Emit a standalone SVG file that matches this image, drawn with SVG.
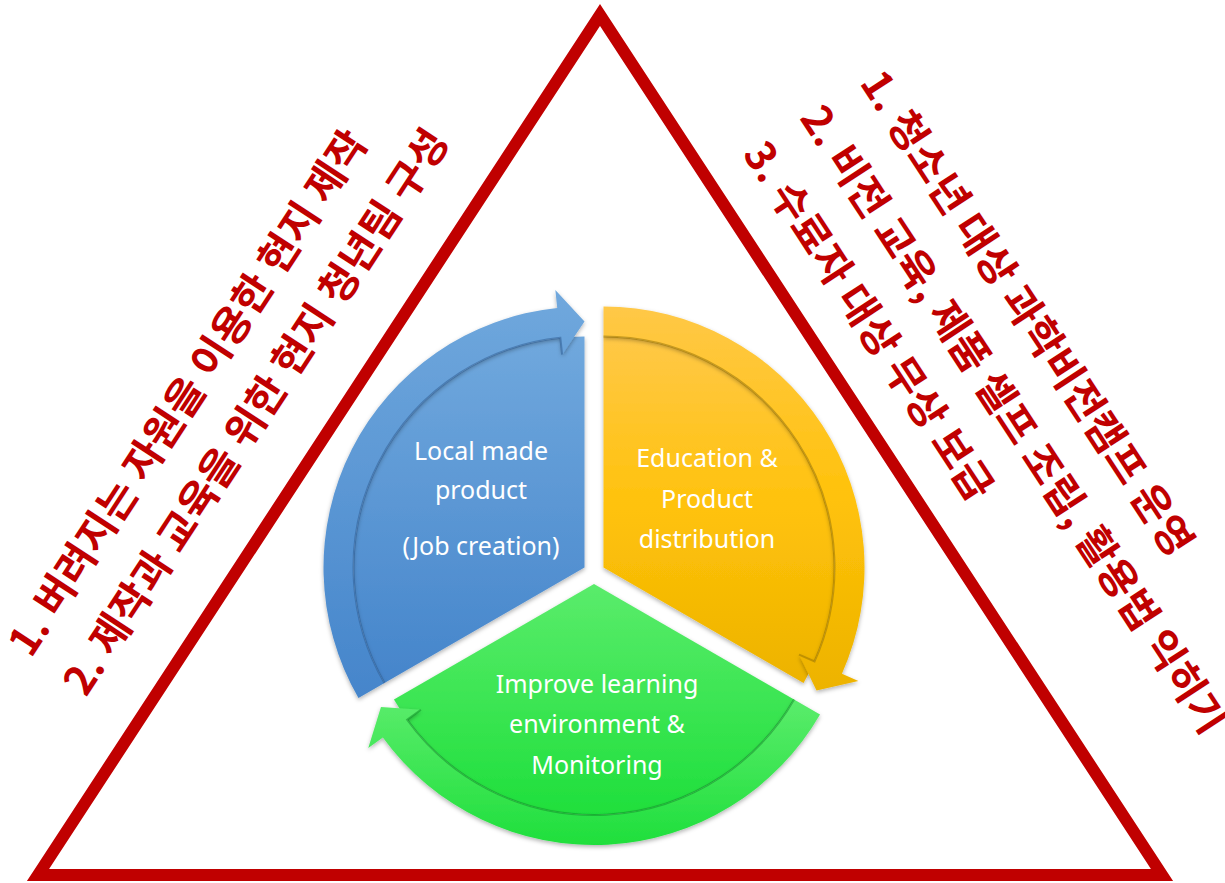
<svg xmlns="http://www.w3.org/2000/svg" width="1225" height="883" viewBox="0 0 1225 883">
<defs>
<style>
.kr{font-family:"Noto Sans CJK KR","Noto Sans",sans-serif;font-weight:bold;font-size:41px;word-spacing:1px;fill:#C00000}
.lbl{font-family:"Noto Sans","Open Sans",sans-serif;font-size:25px;fill:#FFFFFF;text-anchor:middle}
.edge{fill:none;stroke-width:2;stroke-opacity:0.55}
</style>
<linearGradient id="gB" x1="0" y1="0" x2="0" y2="1"><stop offset="0" stop-color="#70A8DD"/><stop offset="1" stop-color="#4585CB"/></linearGradient>
<linearGradient id="gO" x1="0" y1="0" x2="0" y2="1"><stop offset="0" stop-color="#FFC847"/><stop offset="0.5" stop-color="#FFC20A"/><stop offset="1" stop-color="#EDB300"/></linearGradient>
<linearGradient id="gG" x1="0" y1="0" x2="0" y2="1"><stop offset="0" stop-color="#5AEC6B"/><stop offset="1" stop-color="#1FDF3C"/></linearGradient>
<filter id="sh" x="-10%" y="-10%" width="120%" height="120%"><feDropShadow dx="0" dy="2" stdDeviation="2" flood-color="#000" flood-opacity="0.3"/></filter>
</defs>
<rect width="1225" height="883" fill="#FFFFFF"/>
<g id="triangle">
<polygon points="38,875 600,15 1162,875" fill="none" stroke="#C00000" stroke-width="12" stroke-linejoin="miter"/>
</g>
<g id="text-left">
<text class="kr" transform="translate(31,659) rotate(-56.8)">1. 버려지는 자원을 이용한 현지 제작</text>
<text class="kr" transform="translate(86,698) rotate(-56.8)">2. 제작과 교육을 위한 현지 청년팀 구성</text>
</g>
<g id="text-right">
<text class="kr" transform="translate(859,83) rotate(56.8)">1. 청소년 대상 과학비전캠프 운영</text>
<text class="kr" transform="translate(799,118) rotate(56.8)">2. 비전 교육, 제품 셀프 조립, 활용법 익히기</text>
<text class="kr" transform="translate(742,154) rotate(56.8)">3. 수료자 대상 무상 보급</text>
</g>
<g id="node-blue">
<path d="M584.5,567.5 L384.45,683 A231,231 0 0 1 584.5,336.5 Z" fill="url(#gB)" filter="url(#sh)"/>
<text class="lbl" x="481" y="460">Local made</text>
<text class="lbl" x="481" y="499">product</text>
<text class="lbl" x="481" y="555">(Job creation)</text>
</g>
<g id="node-orange">
<path d="M603.5,567.5 L603.5,336.5 A231,231 0 0 1 803.55,683 Z" fill="url(#gO)" filter="url(#sh)"/>
<text class="lbl" x="707" y="467">Education &amp;</text>
<text class="lbl" x="707" y="508">Product</text>
<text class="lbl" x="707" y="548">distribution</text>
</g>
<g id="node-green">
<path d="M594,584 L794.05,699.5 A231,231 0 0 1 393.95,699.5 Z" fill="url(#gG)" filter="url(#sh)"/>
<text class="lbl" x="597" y="693">Improve learning</text>
<text class="lbl" x="597" y="733">environment &amp;</text>
<text class="lbl" x="597" y="774">Monitoring</text>
</g>
<g id="connectors">
<path d="M358.47,698 A261,261 0 0 1 557.22,307.93 L555.34,290.03 L584.5,321.5 L562.13,354.67 L560.35,337.77 A231,231 0 0 0 384.45,683 Z" fill="url(#gB)" filter="url(#sh)"/>
<path class="edge" stroke="#2F5F95" d="M562.13,354.67 L560.35,337.77 A231,231 0 0 0 384.45,683"/>
<path d="M603.5,306.5 A261,261 0 0 1 841.94,673.66 L858.38,680.98 L816.54,690.5 L799,654.54 L814.53,661.46 A231,231 0 0 0 603.5,336.5 Z" fill="url(#gO)" filter="url(#sh)"/>
<path class="edge" stroke="#9A7400" d="M799,654.54 L814.53,661.46 A231,231 0 0 0 603.5,336.5"/>
<path d="M820.03,714.5 A261,261 0 0 1 382.85,737.41 L368.28,747.99 L380.96,707 L420.87,709.79 L407.12,719.78 A231,231 0 0 0 794.05,699.5 Z" fill="url(#gG)" filter="url(#sh)"/>
<path class="edge" stroke="#13922A" d="M420.87,709.79 L407.12,719.78 A231,231 0 0 0 794.05,699.5"/>
</g>
</svg>
